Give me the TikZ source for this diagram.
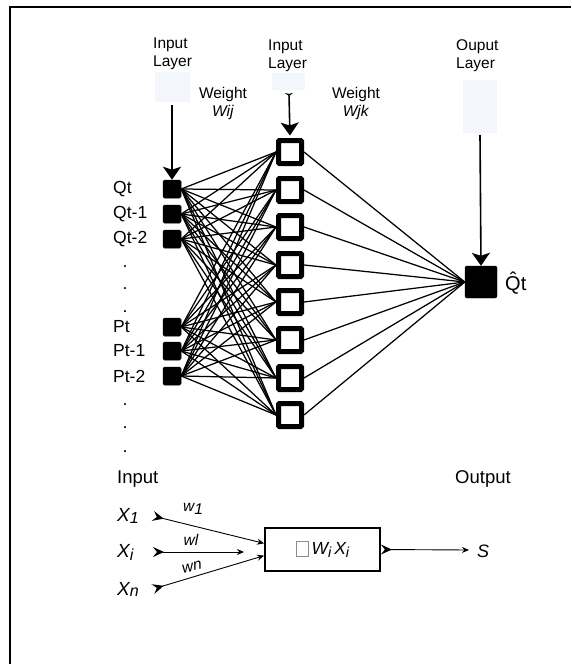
\documentclass[tikz,border=0pt]{standalone}
\usepackage{fontspec}
\setmainfont{Liberation Sans}
\usetikzlibrary{arrows.meta}
\definecolor{faintblue}{RGB}{243,247,251}
\begin{document}
\begin{tikzpicture}[x=1pt,y=-1pt,
  lbl/.style={font=\fontsize{15.5}{18}\selectfont, inner sep=0pt, align=left},
  biglbl/.style={font=\fontsize{18.5}{20}\selectfont, inner sep=0pt, anchor=base west},
  wlbl/.style={font=\fontsize{15.5}{18}\selectfont, inner sep=0pt, align=center},
  seq/.style={font=\fontsize{17.5}{20}\selectfont, inner sep=0pt, anchor=west},
  dotlbl/.style={font=\fontsize{17.5}{20}\selectfont, inner sep=0pt},
  insq/.style={fill=black, draw=black, line width=0.5pt, minimum size=18pt, inner sep=0pt, rounded corners=1.5pt},
  hidsq/.style={draw=black, line width=5pt, minimum size=23pt, inner sep=0pt, rounded corners=1pt, fill=white},
  outsq/.style={fill=black, draw=black, minimum size=32pt, inner sep=0pt, rounded corners=2pt},
  conn/.style={line width=1.25pt},
  bigarrow/.style={line width=1.6pt, -{Stealth[length=13pt,width=18pt,inset=3pt]}},
  faint/.style={fill=faintblue, draw=none},
  xlbl/.style={font=\fontsize{19}{21}\selectfont\itshape, inner sep=0pt, anchor=base west},
  wtxt/.style={font=\fontsize{15.5}{18}\selectfont\itshape, inner sep=0pt},
  thin/.style={line width=0.9pt, {Stealth[reversed,length=11pt,width=10pt,inset=4pt,line width=1pt]}-{Stealth[length=7pt,width=6pt]}},
]
\useasboundingbox (0,0) rectangle (571,664);
\fill[white] (0,0) rectangle (571,664);
% frame
\draw[line width=2.5pt] (10,664) -- (10,7) -- (571,7);

% faint label boxes
\fill[faint] (155,72) rectangle (190,102);
\fill[faint] (272,73) rectangle (305,90);
\fill[faint] (463,80) rectangle (497,133);

% layer labels
\node[lbl, anchor=north west] (lin) at (153,38) {Input\\Layer};
\node[lbl, anchor=north west] (lhid) at (268,40) {Input\\Layer};
\node[lbl, anchor=north west] (lout) at (456,39) {Ouput\\Layer};
\node[wlbl, anchor=north] (wij) at (223,87) {Weight\\\textit{Wij}};
\node[wlbl, anchor=north] (wjk) at (356,87) {Weight\\\textit{Wjk}};

% input squares
\node[insq] (i1) at (172,189) {};
\node[insq] (i2) at (172,214) {};
\node[insq] (i3) at (172,239) {};
\node[insq] (i4) at (172,327) {};
\node[insq] (i5) at (172,351) {};
\node[insq] (i6) at (172,376) {};
\node[seq] (li1) at (113,189) {Qt};
\node[seq] (li2) at (113,214) {Qt-1};
\node[seq] (li3) at (113,239) {Qt-2};
\node[seq] (li4) at (113,327) {Pt};
\node[seq] (li5) at (113,351) {Pt-1};
\node[seq] (li6) at (113,376) {Pt-2};
\foreach \n/\y in {a/267,b/289,c/312,d/405,e/428,f/452}
  \node[dotlbl] (dot\n) at (125,\y) {.};

% hidden squares
\foreach \k/\y in {1/152,2/190,3/227,4/265,5/302,6/340,7/378,8/415}
  \node[hidsq] (h\k) at (290,\y) {};

% output square
\node[outsq] (o) at (481,282) {};
\node[font=\fontsize{20}{22}\selectfont, inner sep=0pt, anchor=west] (qhat) at (505,283) {\^{Q}t};

% connections input -> hidden
\foreach \i in {1,...,6}
  \foreach \k in {1,...,8}
    \draw[conn] (i\i.east) -- (h\k.west);
% hidden -> output
\foreach \k in {1,...,8}
  \draw[conn] (h\k.east) -- (o.west);

% layer arrows
\coordinate (ain) at (172,105);
\coordinate (ahid) at (289,93);
\coordinate (aout) at (480,135);
\draw[bigarrow] (ain) -- (i1.north);
\draw[line width=1.6pt, {Stealth[reversed,length=3pt,width=8pt]}-{Stealth[length=13pt,width=18pt,inset=3pt]}, shorten >=2.5pt] (ahid) -- (h1.north);
\draw[bigarrow] (aout) -- (o.north);

% lower part: single neuron
\node[biglbl] (inlbl) at (117,483) {Input};
\node[biglbl] (outlbl) at (455,483) {Output};

\node[xlbl] (x1) at (117,521) {X\raisebox{-2.5pt}{\fontsize{16}{16}\selectfont 1}};
\node[xlbl] (xi) at (117,557) {X\raisebox{-3.5pt}{\fontsize{16}{16}\selectfont i}};
\node[xlbl] (xn) at (117,595) {X\raisebox{-1.5pt}{\fontsize{16}{16}\selectfont n}};

\node[draw=black, line width=1.8pt, minimum width=115pt, minimum height=43pt, inner sep=0pt,
      font=\fontsize{17.5}{20}\selectfont\itshape] (sum) at (322.5,549.5)
  {{\color{black!45}\fboxsep=0pt\fboxrule=0.7pt\raisebox{-1pt}{\fbox{\rule{0pt}{14pt}\hspace{11.5pt}}}}\,W\raisebox{-3pt}{\fontsize{14.5}{14}\selectfont i}\,X\raisebox{-3pt}{\fontsize{14.5}{14}\selectfont i}};

\coordinate (t1) at (153,516);
\coordinate (ti) at (153,552);
\coordinate (tn) at (153,589);
\coordinate (ei) at (244,552);
\draw[thin] (t1) -- (sum.174);
\draw[thin] (ti) -- (ei);
\draw[thin] (tn) -- (sum.186);

\node[wtxt] (w1) at (193,509) {w\raisebox{-3pt}{1}};
\node[wtxt] (wl) at (191,540) {wl};
\node[wtxt, rotate=12] (wn) at (192,567) {wn};

\coordinate (sout) at (469,550);
\draw[thin] (sum.east) -- (sout);
\node[font=\fontsize{18}{20}\selectfont\itshape, inner sep=0pt, anchor=west] (s) at (477,551) {S};
\end{tikzpicture}
\end{document}
